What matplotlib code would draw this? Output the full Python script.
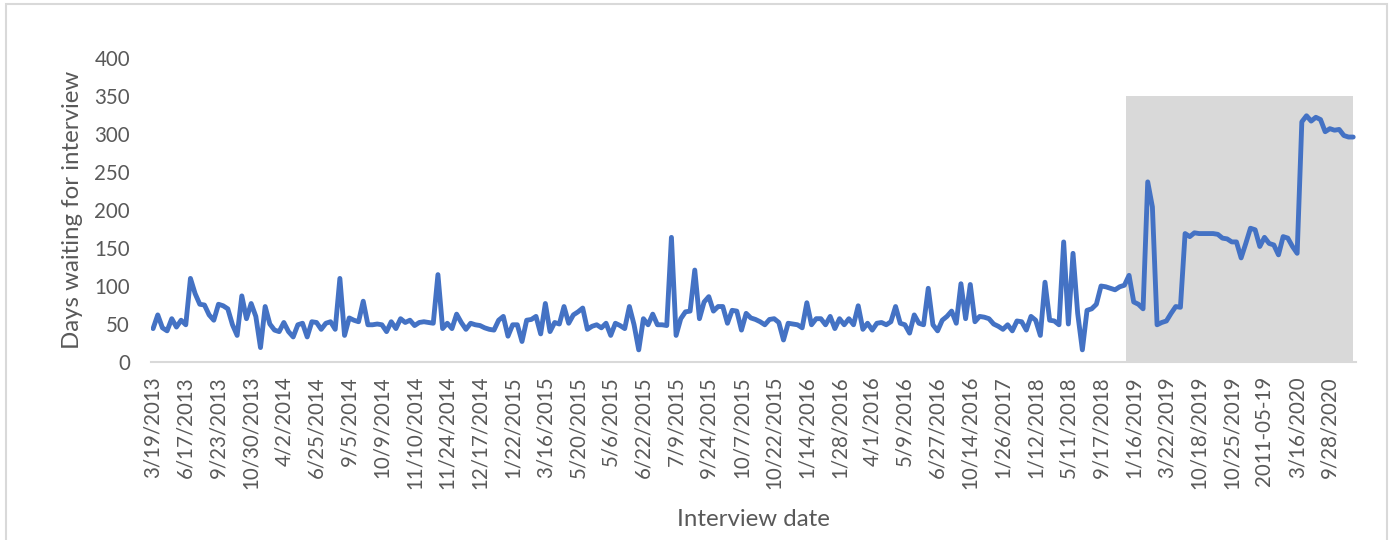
import matplotlib
matplotlib.use("Agg")
import matplotlib.pyplot as plt
from matplotlib.patches import Rectangle

plt.rcParams['font.family'] = ['Lato', 'DejaVu Sans']

# days waiting for interview, one value per interview
dni_oczekiwania = [
    44, 62, 45, 41, 57, 46, 55, 49, 110, 90,
    76, 75, 62, 55, 76, 74, 70, 49, 35, 87,
    57, 77, 60, 19, 73, 50, 42, 40, 52, 40,
    33, 49, 51, 33, 53, 52, 43, 51, 53, 43,
    110, 35, 58, 55, 53, 80, 49, 49, 50, 49,
    40, 53, 44, 57, 52, 55, 48, 52, 53, 52,
    51, 115, 44, 51, 44, 63, 52, 43, 51, 49,
    48, 45, 43, 42, 55, 60, 34, 49, 49, 27,
    55, 56, 60, 37, 77, 40, 52, 50, 73, 51,
    62, 66, 71, 43, 47, 49, 45, 51, 35, 51,
    48, 44, 73, 49, 16, 57, 49, 63, 49, 49,
    48, 164, 35, 57, 66, 67, 121, 57, 79, 86,
    67, 73, 73, 51, 68, 67, 42, 64, 58, 56,
    53, 49, 56, 57, 52, 29, 51, 50, 49, 45,
    78, 49, 57, 57, 49, 60, 44, 57, 49, 57,
    49, 74, 43, 51, 42, 51, 52, 49, 53, 73,
    51, 49, 38, 62, 51, 49, 97, 49, 41, 55,
    60, 67, 51, 103, 57, 102, 53, 60, 59, 57,
    50, 47, 43, 49, 41, 54, 53, 42, 60, 55,
    35, 105, 55, 54, 49, 158, 50, 143, 64, 16,
    68, 70, 76, 100, 99, 97, 95, 99, 101, 114,
    79, 76, 70, 237, 204, 49, 52, 54, 64, 73,
    72, 169, 165, 170, 169, 169, 169, 169, 168, 163,
    162, 158, 158, 137, 156, 176, 174, 152, 164, 156,
    154, 141, 165, 163, 152, 143, 316, 324, 317, 322,
    319, 303, 307, 305, 306, 298, 296, 296,
]

# every 7th interview date is labelled on the axis
etykiety_dat = [
    '3/19/2013', '6/17/2013', '9/23/2013', '10/30/2013', '4/2/2014',
    '6/25/2014', '9/5/2014', '10/9/2014', '11/10/2014', '11/24/2014',
    '12/17/2014', '1/22/2015', '3/16/2015', '5/20/2015', '5/6/2015',
    '6/22/2015', '7/9/2015', '9/24/2015', '10/7/2015', '10/22/2015',
    '1/14/2016', '1/28/2016', '4/1/2016', '5/9/2016', '6/27/2016',
    '10/14/2016', '1/26/2017', '1/12/2018', '5/11/2018', '9/17/2018',
    '1/16/2019', '3/22/2019', '10/18/2019', '10/25/2019', '2011-05-19',
    '3/16/2020', '9/28/2020',
]
co_ile = 7

# highlighted period (shaded box)
poczatek_cienia = 208.4
gora_cienia = 350

kolor_linii = '#4472C4'
kolor_tekstu = '#595959'
kolor_szary = '#D9D9D9'

n = len(dni_oczekiwania)
indeksy = list(range(n))

fig = plt.figure(figsize=(13.92, 5.4), dpi=100)
ax = fig.add_axes([0.1083, 0.3296, 0.8655, 0.563])

ax.add_patch(Rectangle((poczatek_cienia, 0), n - 1 - poczatek_cienia, gora_cienia,
                       facecolor=kolor_szary, edgecolor='none', zorder=1))
ax.plot(indeksy, dni_oczekiwania, color=kolor_linii, linewidth=3.5,
        solid_joinstyle='round', solid_capstyle='round', zorder=3)

ax.set_xlim(-0.5, n - 0.5)
ax.set_ylim(0, 400)
ax.set_yticks(range(0, 401, 50))
ax.set_xticks(range(0, len(etykiety_dat) * co_ile, co_ile))
ax.set_xticklabels(etykiety_dat, rotation=90)

for strona in ['top', 'right', 'left']:
    ax.spines[strona].set_visible(False)
ax.spines['bottom'].set_color(kolor_szary)
ax.spines['bottom'].set_linewidth(1.5)
ax.spines['bottom'].set_zorder(2)

ax.tick_params(axis='x', length=0, pad=10, labelsize=14.8, labelcolor=kolor_tekstu)
ax.tick_params(axis='y', length=0, pad=15, labelsize=14.8, labelcolor=kolor_tekstu)

ax.set_ylabel('Days waiting for interview', fontsize=17.3, color=kolor_tekstu)
ax.yaxis.set_label_coords(-0.056, 0.5)
ax.set_xlabel('Interview date', fontsize=17.3, color=kolor_tekstu)
ax.xaxis.set_label_coords(0.5, -0.485)

# light frame around the chart area
fig.patches.append(Rectangle((6 / 1392, -0.01), 1381 / 1392, 1.0026, transform=fig.transFigure,
                             fill=False, edgecolor=kolor_szary, linewidth=1.5))

fig.savefig('out.png', dpi=100)
